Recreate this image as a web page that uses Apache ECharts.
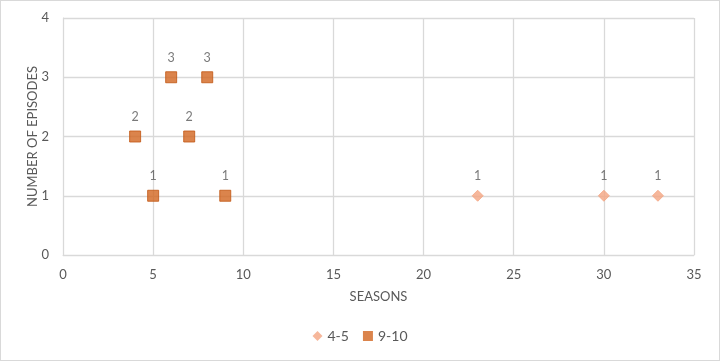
<!DOCTYPE html>
<html><head><meta charset="utf-8">
<script src="https://cdn.jsdelivr.net/npm/echarts@6/dist/echarts.min.js"></script>
<style>html,body{margin:0;padding:0;background:#fff}#c{width:720px;height:361px;box-sizing:border-box;border:1px solid #d9d9d9}</style>
</head><body><div id="c"></div>
<script>
var series1Name = "4-5";
var series1X = [23, 30, 33];
var series1Y = [1, 1, 1];
var series2Name = "9-10";
var series2X = [4, 5, 6, 7, 8, 9];
var series2Y = [2, 1, 3, 2, 3, 1];
var xTitle = "SEASONS";
var yTitle = "NUMBER OF EPISODES";

function pairs(xs, ys){ return xs.map(function(x,i){return [x, ys[i]];}); }
var font = "Lato, 'Open Sans', sans-serif";
var chart = echarts.init(document.getElementById('c'), null, {renderer:'canvas'});
chart.setOption({
  animation:false,
  textStyle:{fontFamily:font},
  grid:{left:62, right:25, top:17, bottom:105, containLabel:false},
  xAxis:{type:'value', min:0, max:35, interval:5,
    name:xTitle, nameLocation:'middle', nameGap:35, nameMoveOverlap:false, nameTextStyle:{color:'#595959', fontSize:13, fontFamily:font},
    axisLine:{show:true, lineStyle:{color:'#d9d9d9'}}, axisTick:{show:false},
    axisLabel:{color:'#595959', fontSize:13, margin:13, fontFamily:font},
    splitLine:{show:true, lineStyle:{color:'#d9d9d9', width:1.3}}},
  yAxis:{type:'value', min:0, max:4, interval:1,
    name:yTitle, nameLocation:'middle', nameGap:24, nameMoveOverlap:false, nameTextStyle:{color:'#595959', fontSize:13, fontFamily:font},
    axisLine:{show:true, lineStyle:{color:'#d9d9d9'}}, axisTick:{show:false},
    axisLabel:{color:'#595959', fontSize:13, margin:14, fontFamily:font},
    splitLine:{show:true, lineStyle:{color:'#d9d9d9', width:1.3}}},
  legend:{bottom:12, left:'center', itemWidth:10, itemHeight:10, itemGap:14,
    textStyle:{color:'#595959', fontSize:14, fontFamily:font},
    data:[{name:series1Name, icon:'diamond', itemStyle:{borderWidth:0}},{name:series2Name, icon:'rect', itemStyle:{borderWidth:0}}]},
  series:[
    {name:series1Name, type:'scatter', symbol:'diamond', symbolSize:11,
      itemStyle:{color:'#F4A582', borderColor:'#F4A582'}, data:pairs(series1X, series1Y),
      label:{show:true, position:'top', distance:7, color:'#595959', fontSize:12.5, fontFamily:font, formatter:function(p){return p.value[1];}}},
    {name:series2Name, type:'scatter', symbol:'rect', symbolSize:11,
      itemStyle:{color:'#D2651F', borderColor:'#C05512', borderWidth:1}, data:pairs(series2X, series2Y),
      label:{show:true, position:'top', distance:7, color:'#595959', fontSize:12.5, fontFamily:font, formatter:function(p){return p.value[1];}}}
  ]
});
</script></body></html>
